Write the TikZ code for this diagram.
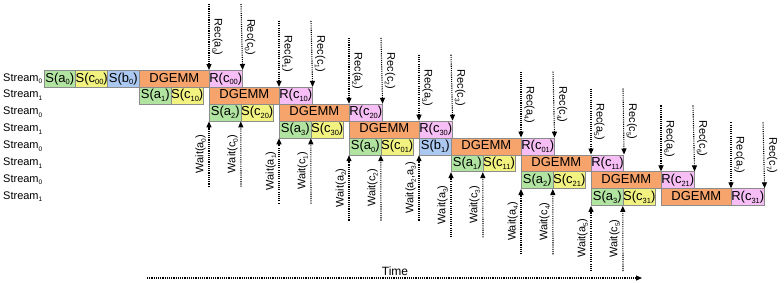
\documentclass[tikz,border=0pt]{standalone}
\usepackage{fontspec}
\setmainfont{Liberation Sans}
\usetikzlibrary{arrows.meta}
\definecolor{cga}{RGB}{176,228,160}
\definecolor{cgc}{RGB}{242,242,128}
\definecolor{cgb}{RGB}{170,200,240}
\definecolor{cgd}{RGB}{246,164,108}
\definecolor{cgr}{RGB}{246,190,244}
\definecolor{cbd}{RGB}{140,140,140}
\newcommand\bsub[1]{\raisebox{-2.8pt}{\fontsize{7.5}{8}\selectfont #1}}
\newcommand\lsub[1]{\raisebox{-2.5pt}{\fontsize{6.5}{7}\selectfont #1}}
\begin{document}
\begin{tikzpicture}[x=1pt,y=-1pt,
  box/.style={draw=cbd, line width=0.7pt, anchor=north west, minimum height=16.9pt,
    inner sep=0pt, text height=9.5pt, text depth=3pt, font=\fontsize{13}{14}\selectfont},
  sbox/.style={box, minimum width=31.8pt},
  abox/.style={sbox, fill=cga},
  cbox/.style={sbox, fill=cgc},
  bbox/.style={sbox, fill=cgb},
  rbox/.style={sbox, fill=cgr},
  dbox/.style={box, minimum width=70pt, fill=cgd},
  stream/.style={anchor=west, inner sep=0pt, font=\fontsize{11}{12}\selectfont},
  arr/.style={line width=1.1pt, dash pattern=on 1.1pt off 1.1pt, -{Triangle[length=6pt,width=5pt]}},
  reclab/.style={rotate=-90, anchor=south, inner sep=0pt, outer sep=3pt, font=\fontsize{11}{12}\selectfont},
  waitlab/.style={rotate=90, anchor=south, inner sep=0pt, outer sep=3pt, font=\fontsize{11}{12}\selectfont}
]
\useasboundingbox (0,0) rectangle (784,282);

% stream labels
\node[stream] (st0) at (3,78.5) {Stream\lsub{0}};
\node[stream] (st1) at (3,95.4) {Stream\lsub{1}};
\node[stream] (st2) at (3,112.3) {Stream\lsub{0}};
\node[stream] (st3) at (3,129.2) {Stream\lsub{1}};
\node[stream] (st4) at (3,146.1) {Stream\lsub{0}};
\node[stream] (st5) at (3,163.0) {Stream\lsub{1}};
\node[stream] (st6) at (3,179.9) {Stream\lsub{0}};
\node[stream] (st7) at (3,196.8) {Stream\lsub{1}};

% row 0
\node[abox] (sa0) at (43.5,70) {S(a\bsub{0})};
\node[cbox] (sc00) at (75.3,70) {S(c\bsub{00})};
\node[bbox] (sb0) at (107.1,70) {S(b\bsub{0})};
\node[dbox] (d0) at (139,70) {DGEMM};
\node[rbox] (r0) at (209,70) {R(c\bsub{00})};
% row 1
\node[abox] (sa1) at (139,86.9) {S(a\bsub{1})};
\node[cbox] (sc10) at (170.8,86.9) {S(c\bsub{10})};
\node[dbox] (d1) at (209,86.9) {DGEMM};
\node[rbox] (r1) at (279,86.9) {R(c\bsub{10})};
% row 2
\node[abox] (sa2) at (209,103.8) {S(a\bsub{2})};
\node[cbox] (sc20) at (240.8,103.8) {S(c\bsub{20})};
\node[dbox] (d2) at (279,103.8) {DGEMM};
\node[rbox] (r2) at (349,103.8) {R(c\bsub{20})};
% row 3
\node[abox] (sa3) at (279,120.7) {S(a\bsub{3})};
\node[cbox] (sc30) at (310.8,120.7) {S(c\bsub{30})};
\node[dbox] (d3) at (349,120.7) {DGEMM};
\node[rbox] (r3) at (419,120.7) {R(c\bsub{30})};
% row 4
\node[abox] (sa0b) at (349,137.6) {S(a\bsub{0})};
\node[cbox] (sc01) at (380.8,137.6) {S(c\bsub{01})};
\node[bbox] (sb1) at (419,137.6) {S(b\bsub{1})};
\node[dbox] (d4) at (451,137.6) {DGEMM};
\node[rbox] (r4) at (521,137.6) {R(c\bsub{01})};
% row 5
\node[abox] (sa1b) at (451,154.5) {S(a\bsub{1})};
\node[cbox] (sc11) at (482.8,154.5) {S(c\bsub{11})};
\node[dbox] (d5) at (521,154.5) {DGEMM};
\node[rbox] (r5) at (591,154.5) {R(c\bsub{11})};
% row 6
\node[abox] (sa2b) at (521,171.4) {S(a\bsub{2})};
\node[cbox] (sc21) at (552.8,171.4) {S(c\bsub{21})};
\node[dbox] (d6) at (591,171.4) {DGEMM};
\node[rbox] (r6) at (661,171.4) {R(c\bsub{21})};
% row 7
\node[abox] (sa3b) at (591,188.3) {S(a\bsub{3})};
\node[cbox] (sc31) at (622.8,188.3) {S(c\bsub{31})};
\node[dbox] (d7) at (661,188.3) {DGEMM};
\node[rbox] (r7) at (731,188.3) {R(c\bsub{31})};

% Rec arrows
\coordinate (ra0) at (209,4.0);   \coordinate (rc0) at (241,4.0);
\coordinate (ra1) at (279,20.9);  \coordinate (rc1) at (311,20.9);
\coordinate (ra2) at (349,37.8);  \coordinate (rc2) at (381,37.8);
\coordinate (ra3) at (419,54.7);  \coordinate (rc3) at (451,54.7);
\coordinate (ra4) at (521,71.6);  \coordinate (rc4) at (553,71.6);
\coordinate (ra5) at (591,88.5);  \coordinate (rc5) at (623,88.5);
\coordinate (ra6) at (661,105.4); \coordinate (rc6) at (693,105.4);
\coordinate (ra7) at (731,122.3); \coordinate (rc7) at (763,122.3);

\draw[arr] (ra0) -- node[reclab] (lra0) {Rec(a\lsub{0})} (r0.north west);
\draw[arr] (rc0) -- node[reclab] (lrc0) {Rec(c\lsub{0})} (r0.north east);
\draw[arr] (ra1) -- node[reclab] (lra1) {Rec(a\lsub{1})} (r1.north west);
\draw[arr] (rc1) -- node[reclab] (lrc1) {Rec(c\lsub{1})} (r1.north east);
\draw[arr] (ra2) -- node[reclab] (lra2) {Rec(a\lsub{2})} (r2.north west);
\draw[arr] (rc2) -- node[reclab] (lrc2) {Rec(c\lsub{2})} (r2.north east);
\draw[arr] (ra3) -- node[reclab] (lra3) {Rec(a\lsub{3})} (r3.north west);
\draw[arr] (rc3) -- node[reclab] (lrc3) {Rec(c\lsub{3})} (r3.north east);
\draw[arr] (ra4) -- node[reclab] (lra4) {Rec(a\lsub{4})} (r4.north west);
\draw[arr] (rc4) -- node[reclab] (lrc4) {Rec(c\lsub{4})} (r4.north east);
\draw[arr] (ra5) -- node[reclab] (lra5) {Rec(a\lsub{5})} (r5.north west);
\draw[arr] (rc5) -- node[reclab] (lrc5) {Rec(c\lsub{5})} (r5.north east);
\draw[arr] (ra6) -- node[reclab] (lra6) {Rec(a\lsub{6})} (r6.north west);
\draw[arr] (rc6) -- node[reclab] (lrc6) {Rec(c\lsub{6})} (r6.north east);
\draw[arr] (ra7) -- node[reclab] (lra7) {Rec(a\lsub{7})} (r7.north west);
\draw[arr] (rc7) -- node[reclab] (lrc7) {Rec(c\lsub{7})} (r7.north east);

% Wait arrows
\coordinate (wa0) at (209,186.7); \coordinate (wc0) at (241,186.7);
\coordinate (wa1) at (279,203.6); \coordinate (wc1) at (311,203.6);
\coordinate (wa2) at (349,220.5); \coordinate (wc2) at (381,220.5);
\coordinate (wab) at (419,220.5);
\coordinate (wa3) at (451,237.4); \coordinate (wc3) at (483,237.4);
\coordinate (wa4) at (521,254.3); \coordinate (wc4) at (553,254.3);
\coordinate (wa5) at (591,271.2); \coordinate (wc5) at (623,271.2);

\draw[arr] (wa0) -- node[waitlab] (lwa0) {Wait(a\lsub{0})} (sa2.south west);
\draw[arr] (wc0) -- node[waitlab] (lwc0) {Wait(c\lsub{0})} (sc20.south west);
\draw[arr] (wa1) -- node[waitlab] (lwa1) {Wait(a\lsub{1})} (sa3.south west);
\draw[arr] (wc1) -- node[waitlab] (lwc1) {Wait(c\lsub{1})} (sc30.south west);
\draw[arr] (wa2) -- node[waitlab] (lwa2) {Wait(a\lsub{2})} (sa0b.south west);
\draw[arr] (wc2) -- node[waitlab] (lwc2) {Wait(c\lsub{2})} (sc01.south west);
\draw[arr] (wab) -- node[waitlab] (lwab) {Wait(a\lsub{2},a\lsub{3})} (sb1.south west);
\draw[arr] (wa3) -- node[waitlab] (lwa3) {Wait(a\lsub{3})} (sa1b.south west);
\draw[arr] (wc3) -- node[waitlab] (lwc3) {Wait(c\lsub{3})} (sc11.south west);
\draw[arr] (wa4) -- node[waitlab] (lwa4) {Wait(a\lsub{4})} (sa2b.south west);
\draw[arr] (wc4) -- node[waitlab] (lwc4) {Wait(c\lsub{4})} (sc21.south west);
\draw[arr] (wa5) -- node[waitlab] (lwa5) {Wait(a\lsub{5})} (sa3b.south west);
\draw[arr] (wc5) -- node[waitlab] (lwc5) {Wait(c\lsub{5})} (sc31.south west);

% Time
\coordinate (tm0) at (147,278);
\coordinate (tm1) at (642,278);
\draw[arr] (tm0) -- (tm1);
\node[inner sep=0pt, font=\fontsize{12}{13}\selectfont] (time) at (395,271) {Time};
\end{tikzpicture}
\end{document}
